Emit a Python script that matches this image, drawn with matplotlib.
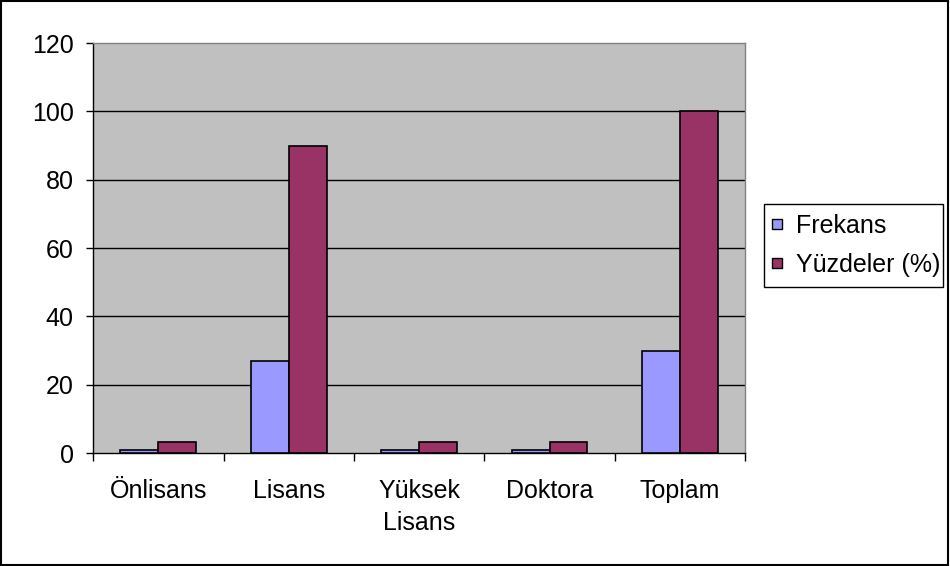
import matplotlib
matplotlib.use("Agg")
import matplotlib.pyplot as plt
from matplotlib.patches import Rectangle
from matplotlib.lines import Line2D
import numpy as np

categories = ["Önlisans", "Lisans", "Yüksek\nLisans", "Doktora", "Toplam"]
frekans = [1, 27, 1, 1, 30]
yuzdeler = [3.33, 90, 3.33, 3.33, 100]
y_ticks = [0, 20, 40, 60, 80, 100, 120]
series_names = ["Frekans", "Yüzdeler (%)"]
series_colors = ["#9999FF", "#993366"]

plt.rcParams["font.family"] = ["Liberation Sans", "DejaVu Sans"]
FS = 18

fig = plt.figure(figsize=(9.5, 5.66), dpi=100)
fig.patch.set_facecolor("white")
fig.add_artist(Rectangle((0.001, 0.002), 0.997, 0.996, transform=fig.transFigure,
                         fill=False, edgecolor="black", linewidth=1.5))

ax = fig.add_axes([0.098, 0.1996, 0.6865, 0.7244])
ax.set_facecolor("#C0C0C0")

x = np.arange(len(categories))
w = 0.29
ax.bar(x - w / 2, frekans, w, color=series_colors[0], edgecolor="black",
       linewidth=1.2, zorder=3)
ax.bar(x + w / 2, yuzdeler, w, color=series_colors[1], edgecolor="black",
       linewidth=1.2, zorder=3)

ax.set_xlim(-0.5, len(categories) - 0.5)
ax.set_ylim(0, 120)
ax.set_yticks(y_ticks)
ax.set_yticklabels([str(t) for t in y_ticks], fontsize=FS)
ax.set_xticks(np.arange(len(categories) + 1) - 0.5)
ax.set_xticklabels([])
ax.set_xticks(x, minor=True)
ax.set_xticklabels(categories, minor=True, fontsize=FS, linespacing=1.4)
ax.tick_params(axis="x", which="minor", length=0, pad=19)
ax.tick_params(axis="x", which="major", length=6, width=1, color="black")
ax.tick_params(axis="y", length=5, width=1, color="black", pad=9)

for t in y_ticks[1:-1]:
    ax.axhline(t, color="black", linewidth=1, zorder=1)

for side in ["top", "right"]:
    ax.spines[side].set_color("#808080")
ax.spines["left"].set_color("black")
ax.spines["bottom"].set_color("black")
for s in ax.spines.values():
    s.set_linewidth(1)

# legend box drawn separately so its padding can be uneven
fig.add_artist(Rectangle((0.8042, 0.4929), 0.1884, 0.1467, transform=fig.transFigure,
                         facecolor="white", edgecolor="black", linewidth=1))

# small square swatches, vertically centred on each legend entry
handles = [Line2D([], [], linestyle="none", marker="s", markersize=7,
                  markerfacecolor=c, markeredgecolor="black", markeredgewidth=1)
           for c in series_colors]
leg = fig.legend(handles, series_names, loc="upper left",
                 bbox_to_anchor=(0.8108, 0.6219), fontsize=FS,
                 frameon=False, handlelength=0.5, handletextpad=0.53,
                 borderpad=0, labelspacing=0.6, borderaxespad=0)

fig.savefig("out.png", dpi=100)
